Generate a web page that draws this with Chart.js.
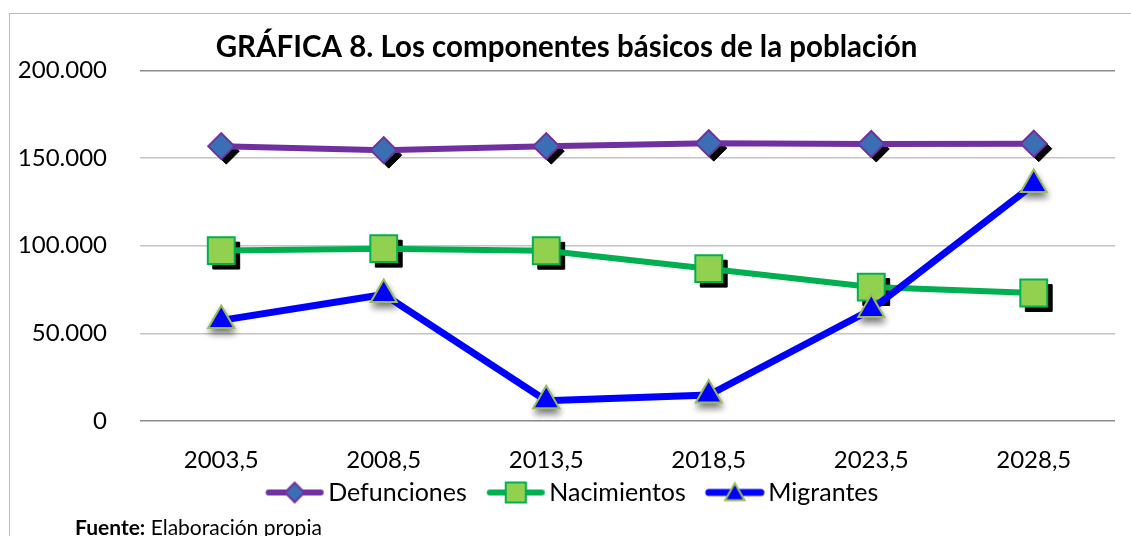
<!DOCTYPE html>
<html>
<head>
<meta charset="utf-8">
<script src="https://cdn.jsdelivr.net/npm/chart.js@4/dist/chart.umd.min.js"></script>
<style>
    html, body { margin: 0; padding: 0; background: #fff; overflow: hidden; }
    #frame { position: absolute; left: 9px; top: 13px; width: 1200px; height: 600px; border: 1px solid #b9b9b9; }
    #wrap { position: absolute; left: 0; top: 0; width: 1131px; height: 536px; }
    #fuente { position: absolute; left: 75px; top: 514px; font-family: Lato, sans-serif; font-size: 21px; color: #000; white-space: nowrap; }
</style>
</head>
<body>
<div id="frame"></div>
<div id="wrap"><canvas id="popChart"></canvas></div>
<div id="fuente"><b>Fuente:</b> Elaboración propia</div>
<script>
const years = ["2003,5", "2008,5", "2013,5", "2018,5", "2023,5", "2028,5"];
const defunciones = [156800, 154500, 156800, 158500, 158000, 158200];
const nacimientos = [97200, 98300, 97100, 86900, 76400, 73000];
const migrantes = [57400, 72200, 11600, 14800, 63600, 134900];
const yTicks = [0, 50000, 100000, 150000, 200000];

function fmt(v) {
    return String(v).replace(/\B(?=(\d{3})+(?!\d))/g, ".");
}

const seriesStyle = [
    { line: "#7030A0", fill: "#3B6FB3", border: "#7030A0", shape: "rectRot", radius: 13, width: 6, shadow: "hard" },
    { line: "#00B050", fill: "#92D050", border: "#00B050", shape: "rect", radius: 19, width: 6, shadow: "hard" },
    { line: "#0000FF", fill: "#0000FF", border: "#9BBB59", shape: "triangle", radius: 15, width: 7, shadow: "soft" },
];

// little line+marker pictures for the legend (left margin = gap to previous item)
const ICON_GAP = 19;
function legendIcon(s) {
    const c = document.createElement("canvas");
    c.width = 60 + ICON_GAP;
    c.height = 28;
    const g = c.getContext("2d");
    g.strokeStyle = s.line;
    g.lineWidth = s.width;
    g.lineCap = "round";
    g.beginPath();
    g.moveTo(ICON_GAP + 4, 14);
    g.lineTo(ICON_GAP + 56, 14);
    g.stroke();
    g.fillStyle = s.fill;
    g.strokeStyle = s.border;
    g.lineWidth = 2;
    Chart.helpers.drawPoint(g, { pointStyle: s.shape, radius: s.radius * 0.75, rotation: 0, borderWidth: 2 }, ICON_GAP + 30, s.shape === "triangle" ? 16 : 14);
    return c;
}

const markerShadows = {
    id: "markerShadows",
    beforeDatasetsDraw(chart) {
        const ctx = chart.ctx;
        chart.data.datasets.forEach((ds, i) => {
            const s = seriesStyle[i];
            const meta = chart.getDatasetMeta(i);
            meta.data.forEach((pt) => {
                ctx.save();
                if (s.shadow === "hard") {
                    ctx.fillStyle = "#000";
                    ctx.strokeStyle = "#000";
                    Chart.helpers.drawPoint(ctx, { pointStyle: s.shape, radius: s.radius, rotation: 0, borderWidth: 2 }, pt.x + 5, pt.y + 5);
                } else {
                    ctx.shadowColor = "rgba(0,0,0,0.55)";
                    ctx.shadowBlur = 7;
                    ctx.shadowOffsetX = 1;
                    ctx.shadowOffsetY = 5;
                    ctx.fillStyle = s.fill;
                    ctx.strokeStyle = s.border;
                    Chart.helpers.drawPoint(ctx, { pointStyle: s.shape, radius: s.radius, rotation: 0, borderWidth: 2 }, pt.x, pt.y);
                }
                ctx.restore();
            });
        });
    },
};

const seriesData = [
    ["Defunciones", defunciones],
    ["Nacimientos", nacimientos],
    ["Migrantes", migrantes],
];

const ctx = document.getElementById("popChart").getContext("2d");

new Chart(ctx, {
    type: "line",
    data: {
        labels: years,
        datasets: seriesData.map(([label, values], i) => ({
            label: label,
            data: values,
            borderColor: seriesStyle[i].line,
            borderWidth: seriesStyle[i].width,
            backgroundColor: seriesStyle[i].fill,
            pointStyle: seriesStyle[i].shape,
            pointRadius: seriesStyle[i].radius,
            pointBackgroundColor: seriesStyle[i].fill,
            pointBorderColor: seriesStyle[i].border,
            pointBorderWidth: 2,
            tension: 0,
            order: 2 - i,
        })),
    },
    options: {
        responsive: true,
        maintainAspectRatio: false,
        animation: false,
        layout: {
            autoPadding: false,
            padding: { left: 18, right: 16, top: 30, bottom: 21 },
        },
        plugins: {
            title: {
                display: true,
                text: "GRÁFICA 8. Los componentes básicos de la población",
                color: "#000",
                font: { family: "Lato", size: 29.5, weight: "bold" },
                padding: { top: 0, bottom: 5 },
            },
            legend: {
                position: "bottom",
                labels: {
                    usePointStyle: true,
                    pointStyleWidth: 61,
                    padding: 9,
                    color: "#000",
                    font: { family: "Lato", size: 25 },
                    generateLabels: (chart) =>
                        chart.data.datasets.map((ds, i) => ({
                            text: ds.label,
                            pointStyle: legendIcon(seriesStyle[i]),
                            datasetIndex: i,
                            fontColor: "#000",
                            hidden: false,
                            lineWidth: 0,
                            strokeStyle: "transparent",
                            fillStyle: "transparent",
                        })),
                },
            },
            tooltip: { enabled: false },
        },
        scales: {
            x: {
                offset: true,
                afterFit: (scale) => {
                    scale.height = 50;
                },
                grid: { display: false, drawTicks: false },
                border: { display: false },
                ticks: {
                    color: "#000",
                    font: { family: "Lato", size: 24 },
                    padding: 25,
                },
            },
            y: {
                min: 0,
                max: 200000,
                afterFit: (scale) => {
                    scale.width = 122;
                },
                afterBuildTicks: (scale) => {
                    scale.ticks = yTicks.map((v) => ({ value: v }));
                },
                grid: {
                    drawTicks: false,
                    lineWidth: 1.5,
                    color: (c) => (c.tick && (c.tick.value === 0 || c.tick.value === 200000) ? "#8c8c8c" : "#c4c4c4"),
                },
                border: { display: false },
                ticks: {
                    color: "#000",
                    font: { family: "Lato", size: 24 },
                    padding: 33,
                    callback: (v) => fmt(v),
                },
            },
        },
    },
    plugins: [markerShadows],
});
</script>
</body>
</html>
